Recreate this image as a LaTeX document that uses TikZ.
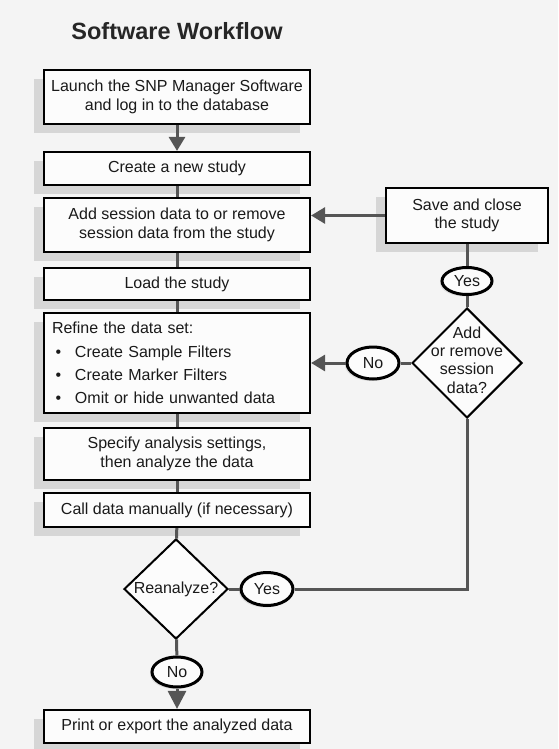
\documentclass[tikz,border=0pt]{standalone}
\usepackage{fontspec}
\setmainfont{Liberation Sans}
\usetikzlibrary{shapes.geometric,arrows.meta,shadows}
\definecolor{bgc}{HTML}{F4F4F4}
\definecolor{boxc}{HTML}{FCFCFC}
\definecolor{linec}{HTML}{555555}
\definecolor{shadc}{HTML}{D6D6D6}
\definecolor{txtc}{HTML}{1A1A1A}
\newcommand\wfbody{\fontsize{16}{18.5}\selectfont}
\begin{document}
\begin{tikzpicture}[x=1pt,y=-1pt,
  box/.style={rectangle, draw=black, line width=2.2pt, fill=boxc, minimum width=266pt,
    inner sep=0pt, align=center, text=txtc, font=\wfbody,
    general shadow={fill=shadc, shadow xshift=-10pt, shadow yshift=-9pt}},
  oval/.style={ellipse, draw=black, line width=3pt, fill=boxc, inner sep=0pt,
    text=txtc, font=\wfbody,
    general shadow={fill=black!12, shadow xshift=-2pt, shadow yshift=-2pt}},
  dia/.style={diamond, draw=black, line width=2pt, fill=boxc, inner sep=0pt},
  dtext/.style={align=center, text=txtc, inner sep=0pt, font=\fontsize{16}{18.3}\selectfont},
  conn/.style={draw=linec, line width=3pt},
  arr/.style={conn, -{Triangle[width=16pt,length=14pt]}},
  arrb/.style={conn, -{Triangle[width=18pt,length=18pt]}}
]
\useasboundingbox (0,0) rectangle (558,749);
\fill[bgc] (0,0) rectangle (558,749);

\node[font=\fontsize{23.5}{28}\selectfont\bfseries, text=black!85, anchor=base, inner sep=0pt] (title) at (177,40) {Software Workflow};

% main column
\node[box, minimum height=54pt] (b1) at (177,97) {Launch the SNP Manager Software\\and log in to the database};
\node[box, minimum height=33pt] (b2) at (177,168.5) {Create a new study};
\node[box, minimum height=54pt] (b3) at (177,225) {Add session data to or remove\\session data from the study};
\node[box, minimum height=32pt] (b4) at (177,284) {Load the study};
\node[box, minimum height=100pt, text width=250pt, inner xsep=8pt, align=left,
  font=\fontsize{16}{23.3}\selectfont] (b5) at (177,363)
  {Refine the data set:\\
   \hspace*{3.5pt}\makebox[19.5pt][l]{•}Create Sample Filters\\
   \hspace*{3.5pt}\makebox[19.5pt][l]{•}Create Marker Filters\\
   \hspace*{3.5pt}\makebox[19.5pt][l]{•}Omit or hide unwanted data};
\node[box, minimum height=52pt] (b6) at (177,454) {Specify analysis settings,\\then analyze the data};
\node[box, minimum height=34pt] (b7) at (177,510) {Call data manually (if necessary)};
\node[dia, minimum width=104pt, minimum height=100pt] (d2) at (176,589) {};
\node[dtext] (d2t) at (176,589) {Reanalyze?};
\node[oval, minimum width=50pt, minimum height=30pt] (no2) at (177,672) {No};
\node[box, minimum height=33pt] (b8) at (177,726.5) {Print or export the analyzed data};

% right column
\node[box, minimum width=162pt, minimum height=55pt] (save) at (467,215.5) {Save and close\\the study};
\node[oval, minimum width=50pt, minimum height=27pt] (yes1) at (467,281) {Yes};
\node[dia, minimum width=110pt, minimum height=110pt] (d1) at (467,363) {};
\node[dtext] (d1t) at (467,360) {Add\\or remove\\session\\data?};
\node[oval, minimum width=52pt, minimum height=32pt] (no1) at (373,363) {No};
\node[oval, minimum width=52pt, minimum height=33pt] (yes2) at (267,589) {Yes};

% connectors
\draw[arr] (b1) -- (b2);
\draw[conn] (b2) -- (b3);
\draw[conn] (b3) -- (b4);
\draw[conn] (b4) -- (b5);
\draw[conn] (b5) -- (b6);
\draw[conn] (b6) -- (b7);
\draw[conn] (b7) -- (d2);
\draw[conn] (d2) -- (no2);
\draw[arrb] (no2) -- (b8);
\draw[arr] (save.west) -- (save.west -| b3.east);
\draw[conn] (save) -- (yes1);
\draw[conn] (yes1) -- (d1);
\draw[conn] (d1) -- (no1);
\draw[arr] (no1) -- (b5);
\draw[conn] (d1.south) |- (yes2.east);
\draw[conn] (yes2) -- (d2);
\end{tikzpicture}
\end{document}
